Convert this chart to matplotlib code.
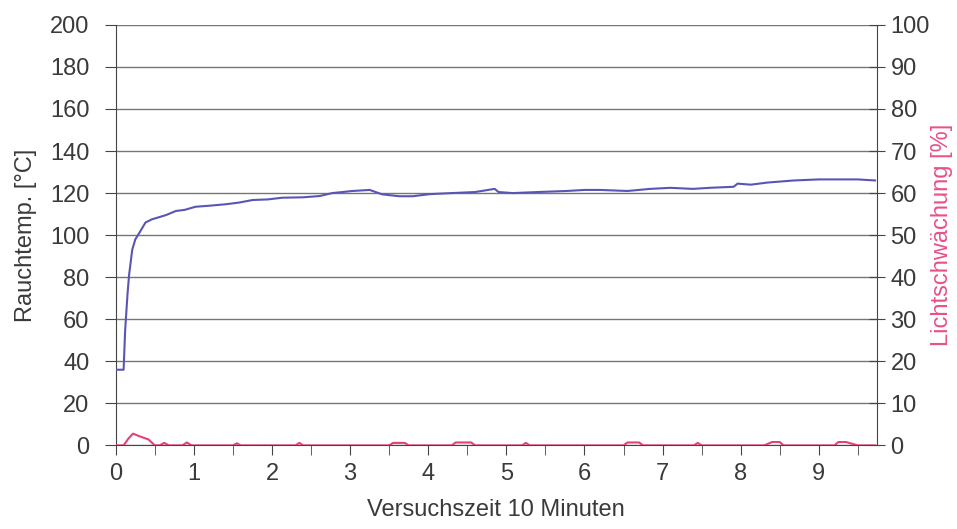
import numpy as np
import matplotlib.pyplot as plt
from matplotlib.ticker import MultipleLocator

plt.rcParams['font.family'] = ['Liberation Sans', 'DejaVu Sans']

# Rauchtemperatur [°C] over Versuchszeit [min]
temp_x = [0.0, 0.05, 0.10, 0.12, 0.15, 0.17, 0.21, 0.25, 0.30, 0.38, 0.46, 0.55,
          0.64, 0.77, 0.88, 1.02, 1.2, 1.41, 1.58, 1.75, 1.95, 2.13, 2.4, 2.61,
          2.77, 3.03, 3.25, 3.41, 3.63, 3.8, 4.02, 4.3, 4.6, 4.85, 4.9, 5.08,
          5.4, 5.77, 6.0, 6.2, 6.55, 6.84, 7.1, 7.39, 7.6, 7.91, 7.96, 8.13,
          8.34, 8.68, 9.0, 9.19, 9.5, 9.72]
temp_y = [36, 36, 36, 55, 72, 81, 93, 98, 101, 106, 107.5, 108.5,
          109.5, 111.5, 112, 113.5, 114, 114.7, 115.5, 116.7, 117, 117.8, 118, 118.6,
          120, 121, 121.5, 119.4, 118.5, 118.5, 119.5, 120, 120.5, 122, 120.5, 120,
          120.5, 121, 121.5, 121.5, 121, 122, 122.5, 122, 122.5, 123, 124.5, 124,
          125, 126, 126.5, 126.5, 126.5, 126]

# Lichtschwaechung [%]
light_x = [0.0, 0.1, 0.16, 0.22, 0.3, 0.42, 0.5, 0.56, 0.62, 0.68, 0.85, 0.91,
           0.97, 1.2, 1.5, 1.55, 1.6, 2.3, 2.35, 2.4, 2.9, 3.5, 3.55, 3.7, 3.75,
           3.8, 4.3, 4.35, 4.45, 4.55, 4.6, 5.2, 5.25, 5.3, 5.9, 6.5, 6.55, 6.7,
           6.75, 7.4, 7.45, 7.5, 8.3, 8.4, 8.5, 8.55, 9.2, 9.25, 9.35, 9.5, 9.72]
light_y = [0.0, 0.0, 1.6, 2.8, 2.2, 1.4, 0.0, 0.0, 0.6, 0.0, 0.0, 0.7,
           0.0, 0.0, 0.0, 0.5, 0.0, 0.0, 0.6, 0.0, 0.0, 0.0, 0.6, 0.6, 0.0,
           0.0, 0.0, 0.7, 0.7, 0.7, 0.0, 0.0, 0.6, 0.0, 0.0, 0.0, 0.7, 0.7,
           0.0, 0.0, 0.6, 0.0, 0.0, 0.8, 0.8, 0.0, 0.0, 0.8, 0.8, 0.0, 0.0]

fig = plt.figure(figsize=(9.57, 5.29), dpi=100)
ax = fig.add_axes([0.121, 0.158, 0.795, 0.795])
ax2 = ax.twinx()

axis_col = '#454545'
text_col = '#3a3a3a'
pink = '#e8508a'

ax.plot(temp_x, temp_y, color='#5a55b5', lw=1.5, zorder=3)
ax2.plot(light_x, light_y, color='#e4407a', lw=1.5, zorder=3)

ax.set_xlim(0, 9.74)
ax.set_ylim(0, 200)
ax2.set_ylim(0, 100)

ax.yaxis.set_major_locator(MultipleLocator(20))
ax2.yaxis.set_major_locator(MultipleLocator(10))
ax.xaxis.set_major_locator(MultipleLocator(1))
ax.xaxis.set_minor_locator(MultipleLocator(0.5))

ax.grid(axis='y', color='#767676', lw=1.0)
ax.set_axisbelow(True)

for a in (ax, ax2):
    for s in a.spines.values():
        s.set_visible(False)
ax.spines['left'].set_visible(True)
ax.spines['bottom'].set_visible(True)
ax2.spines['right'].set_visible(True)
ax.spines['left'].set_color(axis_col)
ax.spines['bottom'].set_color(axis_col)
ax2.spines['right'].set_color(axis_col)

ax.tick_params(axis='y', direction='out', length=8, color=axis_col,
               labelsize=17, labelcolor=text_col, pad=11)
ax.tick_params(axis='x', which='both', direction='out', length=7, color=axis_col,
               labelsize=17, labelcolor=text_col, pad=6)
ax2.tick_params(axis='y', direction='inout', length=12, color=axis_col,
                labelsize=17, labelcolor=text_col, pad=4)

ax.set_ylabel('Rauchtemp. [°C]', fontsize=17, color=text_col, labelpad=9)
ax2.set_ylabel('Lichtschwächung [%]', fontsize=17, color=pink, labelpad=1)
ax.set_xlabel('Versuchszeit 10 Minuten', fontsize=17, color=text_col, labelpad=10)

fig.savefig('out.png', dpi=100, facecolor='white')
